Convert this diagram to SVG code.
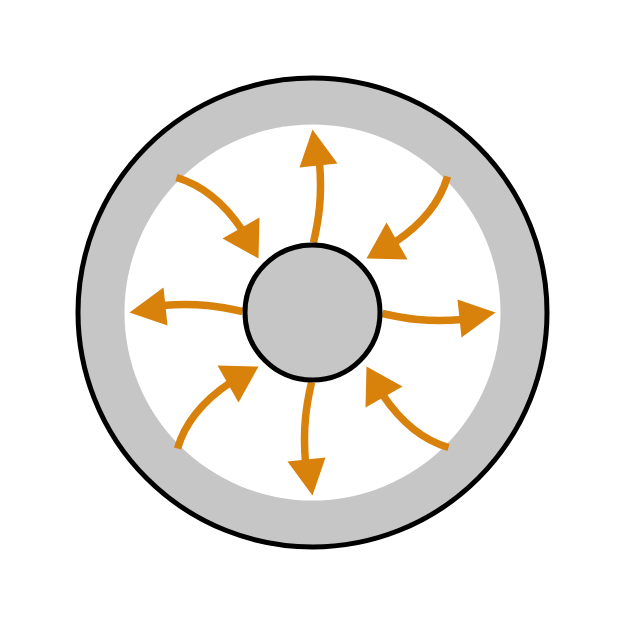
<svg xmlns="http://www.w3.org/2000/svg" width="626" height="626" viewBox="0 0 626 626">
<style>
.shaft{fill:none;stroke:#d8820c;stroke-width:7.5;stroke-linecap:butt}
.head{fill:#d8820c;stroke:none}
.ring{fill:#c6c6c6;stroke:#000;stroke-width:5}
</style>
<defs>
<g id="outArrow">
<path class="shaft" d="M 1 -70 C 6 -92 10 -115 7 -150"/>
<polygon class="head" points="0,-183 -13,-145 25,-149"/>
</g>
<g id="inArrow">
<path class="shaft" d="M 135 -136 C 128 -112 112 -90 82 -70"/>
<polygon class="head" points="54,-54 74,-90 95,-53"/>
</g>
</defs>
<rect width="626" height="626" fill="#fff"/>
<g id="outer-ring">
<circle class="ring" cx="312.5" cy="312.5" r="234.5"/>
<circle cx="312.5" cy="312.5" r="188" fill="#fff"/>
</g>
<g id="connectors" transform="translate(312.5,312.5)">
<use href="#outArrow"/>
<use href="#outArrow" transform="rotate(90)"/>
<use href="#outArrow" transform="rotate(180)"/>
<use href="#outArrow" transform="rotate(270)"/>
<use href="#inArrow"/>
<use href="#inArrow" transform="rotate(90)"/>
<use href="#inArrow" transform="rotate(180)"/>
<use href="#inArrow" transform="rotate(270)"/>
</g>
<g id="inner-circle">
<circle class="ring" cx="312.5" cy="312.5" r="67.5"/>
</g>
</svg>
